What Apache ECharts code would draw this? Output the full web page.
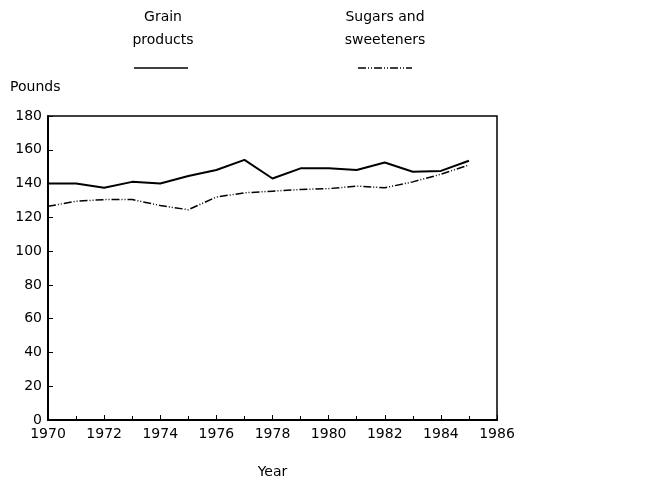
<!DOCTYPE html>
<html><head><meta charset="utf-8">
<script src="https://cdn.jsdelivr.net/npm/echarts@6/dist/echarts.min.js"></script>
<style>html,body{margin:0;padding:0;background:#fff}#c{width:670px;height:481px}</style>
</head><body><div id="c"></div>
<script>
const years = [1970,1971,1972,1973,1974,1975,1976,1977,1978,1979,1980,1981,1982,1983,1984,1985];
const grain = [140,140,137.5,141,140,144.5,148,154,143,149,149,148,152.5,147,147.5,153.5];
const sugars = [126.5,129.5,130.5,130.5,127,124.5,132,134.5,135.5,136.5,137,138.5,137.5,141,145.5,151];
const seriesNames = ['Grain\nproducts','Sugars and\nsweeteners'];
const font = '"DejaVu Sans", sans-serif';
const chart = echarts.init(document.getElementById('c'));
chart.setOption({
  animation:false,
  backgroundColor:'#fff',
  grid:{left:48,right:173,top:116,bottom:61,show:true,borderColor:'#000',borderWidth:1.5,containLabel:false,outerBoundsMode:'none'},
  xAxis:{type:'value',min:1970,max:1986,interval:2,
    axisLine:{lineStyle:{color:'#000',width:2}},
    axisTick:{inside:true,length:5,lineStyle:{color:'#000'}},
    minorTick:{show:true,splitNumber:2,length:4,lineStyle:{color:'#000'}},
    splitLine:{show:false},
    axisLabel:{color:'#000',fontFamily:font,fontSize:14,margin:7,formatter:v=>String(v)},
    name:'Year',nameLocation:'middle',nameGap:45,nameTextStyle:{color:'#000',fontFamily:font,fontSize:14}},
  yAxis:{type:'value',min:0,max:180,interval:20,
    axisLine:{show:true,lineStyle:{color:'#000',width:2}},
    axisTick:{show:true,inside:true,length:5,lineStyle:{color:'#000'}},
    splitLine:{show:false},
    axisLabel:{color:'#000',fontFamily:font,fontSize:14,margin:6}},
  graphic:[
    {type:'text',left:10,top:80,style:{text:'Pounds',fill:'#000',font:'14px '+font}},
    {type:'text',x:163,y:6,style:{text:seriesNames[0],fill:'#000',font:'14px '+font,align:'center',lineHeight:23}},
    {type:'line',shape:{x1:134,y1:68,x2:188,y2:68},style:{stroke:'#000',lineWidth:1.5}},
    {type:'text',x:385,y:6,style:{text:seriesNames[1],fill:'#000',font:'14px '+font,align:'center',lineHeight:23}},
    {type:'line',shape:{x1:358,y1:68,x2:412,y2:68},style:{stroke:'#000',lineWidth:1.5,lineDash:[8,2,1,2,1,2]}}
  ],
  series:[
    {name:'Grain products',type:'line',data:years.map((y,i)=>[y,grain[i]]),showSymbol:false,lineStyle:{color:'#000',width:2}},
    {name:'Sugars and sweeteners',type:'line',data:years.map((y,i)=>[y,sugars[i]]),showSymbol:false,lineStyle:{color:'#000',width:1.5,type:[8,2,1,2,1,2]}}
  ]
});
</script></body></html>
